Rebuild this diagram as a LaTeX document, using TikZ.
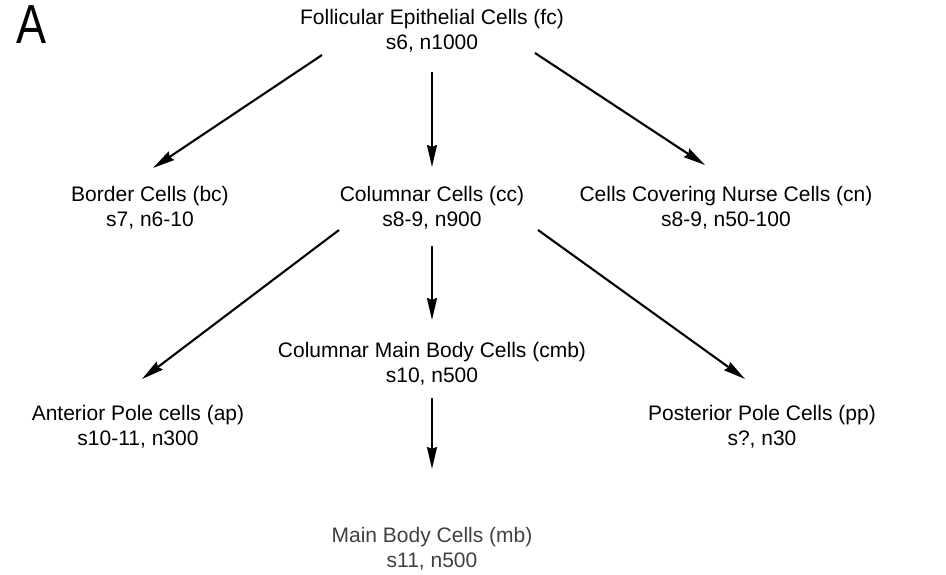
\documentclass[tikz,border=0pt]{standalone}
\usepackage{fontspec}
\setmainfont{Liberation Sans}
\usetikzlibrary{arrows.meta,calc}
\begin{document}
\begin{tikzpicture}[x=1pt,y=-1pt,
  cell/.style={align=center,inner sep=0pt,font=\fontsize{21}{25}\selectfont},
  arr/.style={line width=2.1pt,-{Stealth[length=22pt,width=10pt,inset=2pt]}}]
\useasboundingbox (0,0) rectangle (946,575);
\node[anchor=center,inner sep=0pt,font=\fontsize{50}{50}\selectfont,xscale=0.9,yscale=1.1] (lbl) at (32,25) {A};
\node[cell] (fc)  at (432,30.5) {Follicular Epithelial Cells (fc)\\s6, n1000};
\node[cell] (bc)  at (150,208) {Border Cells (bc)\\s7, n6-10};
\node[cell] (cc)  at (432,208) {Columnar Cells (cc)\\s8-9, n900};
\node[cell] (cn)  at (726,208) {Cells Covering Nurse Cells (cn)\\s8-9, n50-100};
\node[cell] (cmb) at (432,364) {Columnar Main Body Cells (cmb)\\s10, n500};
\node[cell] (ap)  at (138,427) {Anterior Pole cells (ap)\\s10-11, n300};
\node[cell] (pp)  at (762,427) {Posterior Pole Cells (pp)\\s?, n30};
\node[cell,text=black!75] (mb) at (432,549) {Main Body Cells (mb)\\s11, n500};
\draw[arr] ($(fc.center)+(-110,24.5)$) -- ($(bc.center)+(3,-40)$);
\draw[arr] ($(fc.center)+(0,42)$) -- ($(cc.center)+(0,-41)$);
\draw[arr] ($(fc.center)+(103,22.5)$) -- ($(cn.center)+(-21,-43)$);
\draw[arr] ($(cc.center)+(-93,22)$) -- ($(ap.center)+(4,-48)$);
\draw[arr] ($(cc.center)+(0,38)$) -- ($(cmb.center)+(0,-44)$);
\draw[arr] ($(cc.center)+(106,22)$) -- ($(pp.center)+(-17,-48)$);
\draw[arr] ($(cmb.center)+(0,34)$) -- ($(mb.center)+(0,-80)$);
\end{tikzpicture}
\end{document}
